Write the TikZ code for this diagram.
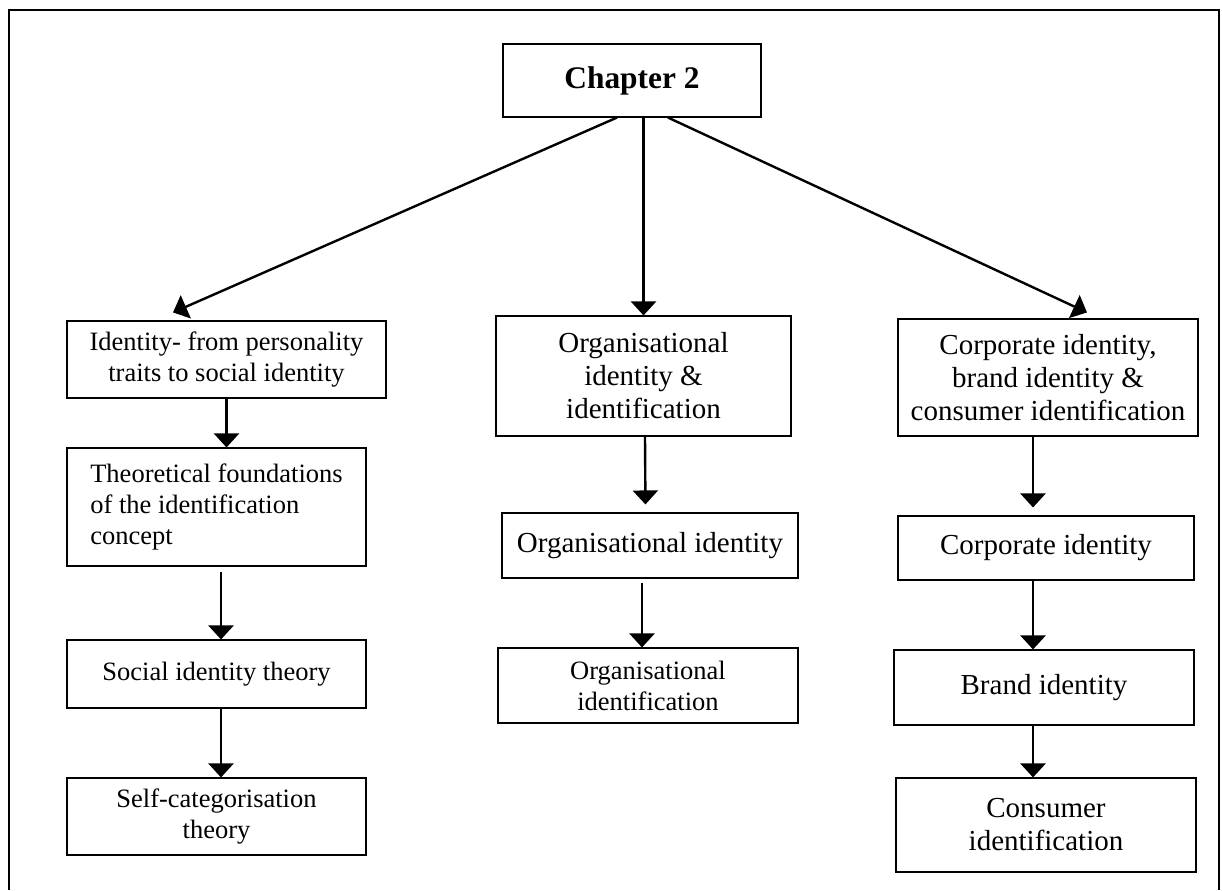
\documentclass[tikz,border=0pt]{standalone}
\usepackage{fontspec}
\setmainfont{Liberation Serif}
\usetikzlibrary{arrows.meta}

\begin{document}
\begin{tikzpicture}[x=0.5pt,y=-0.5pt,
    topicbox/.style={draw, line width=0.55pt, align=center, inner sep=2pt,
        font=\fontsize{14.5}{16.5}\selectfont},
    smalltext/.style={font=\fontsize{13.25}{15.5}\selectfont},
    link/.style={line width=1.2pt, -{Triangle[width=12.5pt,length=7pt]}}]
    % Fix the page to the size of the figure
    \useasboundingbox (0,0) rectangle (1222,890);

    % Draw the frame round the figure (open at the bottom)
    \draw[line width=1.4pt] (9,890) -- (9,10) -- (1219,10) -- (1219,890);

    % Draw the chapter box
    \node[topicbox, minimum width=129pt, minimum height=36.5pt,
        font=\fontsize{15.7}{18}\selectfont\bfseries] (chap) at (632,80.5) {Chapter 2};

    % Left column: identity
    \node[topicbox, smalltext, minimum width=159.5pt, minimum height=38.5pt] (idty) at (226.5,359.5)
        {Identity- from personality\\traits to social identity};
    \node[topicbox, smalltext, minimum width=149.5pt, minimum height=59pt, align=left] (theo) at (216.5,507)
        {Theoretical foundations\\of the identification\\concept};
    \node[topicbox, smalltext, minimum width=149.5pt, minimum height=34pt] (sit) at (216.5,674)
        {Social identity theory};
    \node[topicbox, smalltext, minimum width=149.5pt, minimum height=38.5pt] (sct) at (216.5,816.5)
        {Self-categorisation\\theory};

    % Middle column: organisational identity
    \node[topicbox, minimum width=147.5pt, minimum height=60pt] (orgboth) at (643.5,376)
        {Organisational\\identity \&\\identification};
    \node[topicbox, minimum width=148pt, minimum height=32.5pt] (orgid) at (650,545.5)
        {Organisational identity};
    \node[topicbox, smalltext, minimum width=150pt, minimum height=37.5pt] (orgidf) at (648,685.5)
        {Organisational\\identification};

    % Right column: corporate and brand identity
    \node[topicbox, minimum width=150pt, minimum height=58.5pt] (corpall) at (1048,377.5)
        {Corporate identity,\\brand identity \&\\consumer identification};
    \node[topicbox, minimum width=148pt, minimum height=32pt] (corpid) at (1046,548)
        {Corporate identity};
    \node[topicbox, minimum width=150pt, minimum height=37.5pt] (brandid) at (1044,687.5)
        {Brand identity};
    \node[topicbox, minimum width=150pt, minimum height=47pt] (consid) at (1046,825)
        {Consumer\\identification};

    % Arrows from the chapter box
    \draw[link] ([xshift=-7.5pt]chap.south) -- ([xshift=-26.75pt,yshift=4pt]idty.north);
    \draw[link] (chap.south -| orgboth.north) -- (orgboth.north);
    \draw[link] ([xshift=18pt]chap.south) -- ([xshift=19.5pt,yshift=3pt]corpall.north);

    % Arrows down the left column
    \draw[link] (idty.south) -- (idty.south |- theo.north);
    \draw[link, shorten <=2.5pt] ([xshift=2.25pt]theo.south) -- ([xshift=2.25pt]sit.north);
    \draw[link] ([xshift=2.25pt]sit.south) -- ([xshift=2.25pt]sct.north);

    % Arrows down the middle column
    \draw[link, shorten >=4pt] ([xshift=0.75pt]orgboth.south) -- ([xshift=-2.25pt]orgid.north);
    \draw[link, shorten <=2pt] ([xshift=-4pt]orgid.south) -- ([xshift=-3pt]orgidf.north);

    % Arrows down the right column
    \draw[link, shorten >=4pt] ([xshift=-7.5pt]corpall.south) -- ([xshift=-6.5pt]corpid.north);
    \draw[link] ([xshift=-6.5pt]corpid.south) -- ([xshift=-5.5pt]brandid.north);
    \draw[link] ([xshift=-5.5pt]brandid.south) -- ([xshift=-6.5pt]consid.north);
\end{tikzpicture}
\end{document}
